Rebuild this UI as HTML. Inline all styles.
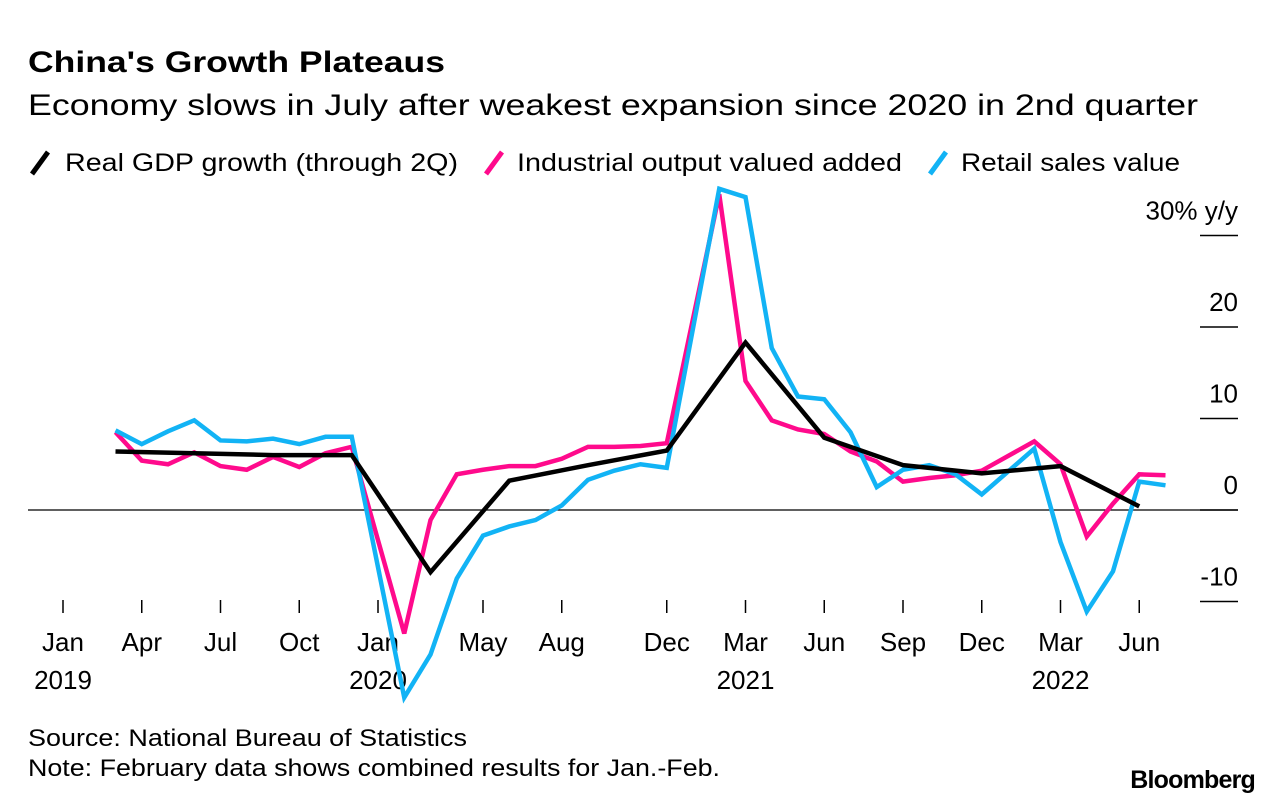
<!DOCTYPE html>
<html><head><meta charset="utf-8">
<style>
body{margin:0;background:#fff;font-family:"Liberation Sans",sans-serif;}
svg text{font-family:"Liberation Sans",sans-serif;}
</style></head>
<body>
<svg width="1283" height="806">
<text x="28" y="72" font-size="30" font-weight="bold" fill="#000" textLength="417" lengthAdjust="spacingAndGlyphs">China's Growth Plateaus</text>
<text x="28" y="115" font-size="30" fill="#000" textLength="1170" lengthAdjust="spacingAndGlyphs">Economy slows in July after weakest expansion since 2020 in 2nd quarter</text>
<g>
<line x1="32" y1="174" x2="48" y2="152" stroke="#000" stroke-width="5"/>
<text x="65" y="171" font-size="25" textLength="393" lengthAdjust="spacingAndGlyphs">Real GDP growth (through 2Q)</text>
<line x1="486" y1="174" x2="502" y2="152" stroke="#ff0a8c" stroke-width="5"/>
<text x="517" y="171" font-size="25" textLength="385" lengthAdjust="spacingAndGlyphs">Industrial output valued added</text>
<line x1="930" y1="174" x2="946" y2="152" stroke="#12b3f5" stroke-width="5"/>
<text x="961" y="171" font-size="25" textLength="219" lengthAdjust="spacingAndGlyphs">Retail sales value</text>
</g>
<g id="axes"></g>
<g id="series"></g>
<text x="28" y="746" font-size="24" textLength="439" lengthAdjust="spacingAndGlyphs">Source: National Bureau of Statistics</text>
<text x="28" y="776" font-size="24" textLength="692" lengthAdjust="spacingAndGlyphs">Note: February data shows combined results for Jan.-Feb.</text>
<text x="1255" y="788" font-size="25" font-weight="bold" text-anchor="end" letter-spacing="-0.8">Bloomberg</text>
</svg>
<script>
// months indexed from Jan 2019 = 0
const yTicks=[30,20,10,0,-10];
const yTickLabels=["30% y/y","20","10","0","-10"];
const xTickMonths=[0,3,6,9,12,16,19,23,26,29,32,35,38,41];
const xTickLabels=["Jan","Apr","Jul","Oct","Jan","May","Aug","Dec","Mar","Jun","Sep","Dec","Mar","Jun"];
const yearLabels=["2019","2020","2021","2022"];
const yearMonths=[0,12,26,38];
const monthlyMonths=[2,3,4,5,6,7,8,9,10,11,13,14,15,16,17,18,19,20,21,22,23,25,26,27,28,29,30,31,32,33,34,35,37,38,39,40,41,42];
const industrial=[8.5,5.4,5.0,6.3,4.8,4.4,5.8,4.7,6.2,6.9,-13.5,-1.1,3.9,4.4,4.8,4.8,5.6,6.9,6.9,7.0,7.3,34.5,14.1,9.8,8.8,8.3,6.4,5.3,3.1,3.5,3.8,4.3,7.5,5.0,-2.9,0.7,3.9,3.8];
const retail=[8.7,7.2,8.6,9.8,7.6,7.5,7.8,7.2,8.0,8.0,-20.5,-15.8,-7.5,-2.8,-1.8,-1.1,0.5,3.3,4.3,5.0,4.6,35.1,34.2,17.7,12.4,12.1,8.5,2.5,4.4,4.9,3.9,1.7,6.7,-3.5,-11.1,-6.7,3.1,2.7];
const gdpMonths=[2,5,8,11,14,17,20,23,26,29,32,35,38,41];
const gdp=[6.4,6.2,6.0,6.0,-6.8,3.2,4.9,6.5,18.3,7.9,4.9,4.0,4.8,0.4];

const X=m=>63+m*26.25;
const Y=v=>510-v*9.15;
const NS="http://www.w3.org/2000/svg";
function mk(tag,attrs,parent){const e=document.createElementNS(NS,tag);for(const k in attrs)e.setAttribute(k,attrs[k]);parent.appendChild(e);return e;}
const ax=document.getElementById('axes');
const z=mk('line',{x1:28,x2:1238,y1:Y(0),y2:Y(0),stroke:'#000','stroke-width':1.3},ax);


yTicks.forEach((v,i)=>{
  const l=mk('line',{x1:1200,x2:1238,y1:Y(v),y2:Y(v),stroke:'#000','stroke-width':1.5},ax);
  
  
  const t=mk('text',{x:1238,y:Y(v)-16,'font-size':26,'text-anchor':'end'},ax);
  t.textContent=yTickLabels[i];
  
  
});
xTickMonths.forEach((m,i)=>{
  const l=mk('line',{x1:X(m),x2:X(m),y1:600,y2:613,stroke:'#000','stroke-width':1.5},ax);
  
  
  const t=mk('text',{x:X(m),y:651,'font-size':26,'text-anchor':'middle'},ax);
  t.textContent=xTickLabels[i];
  
  
});
yearLabels.forEach((y,i)=>{
  const t=mk('text',{x:X(yearMonths[i]),y:689,'font-size':26,'text-anchor':'middle'},ax);
  t.textContent=y;
  
  
});
const sg=document.getElementById('series');
function line(ms,vs,color,name){
  const p=mk('polyline',{points:ms.map((m,i)=>X(m)+','+Y(vs[i])).join(' '),fill:'none',stroke:color,'stroke-width':4.5,'stroke-linejoin':'miter'},sg);
  
  
}
line(monthlyMonths,industrial,'#ff0a8c','industrial-output-line');
line(monthlyMonths,retail,'#12b3f5','retail-sales-line');
line(gdpMonths,gdp,'#000','gdp-growth-line');
</script>
</body></html>
